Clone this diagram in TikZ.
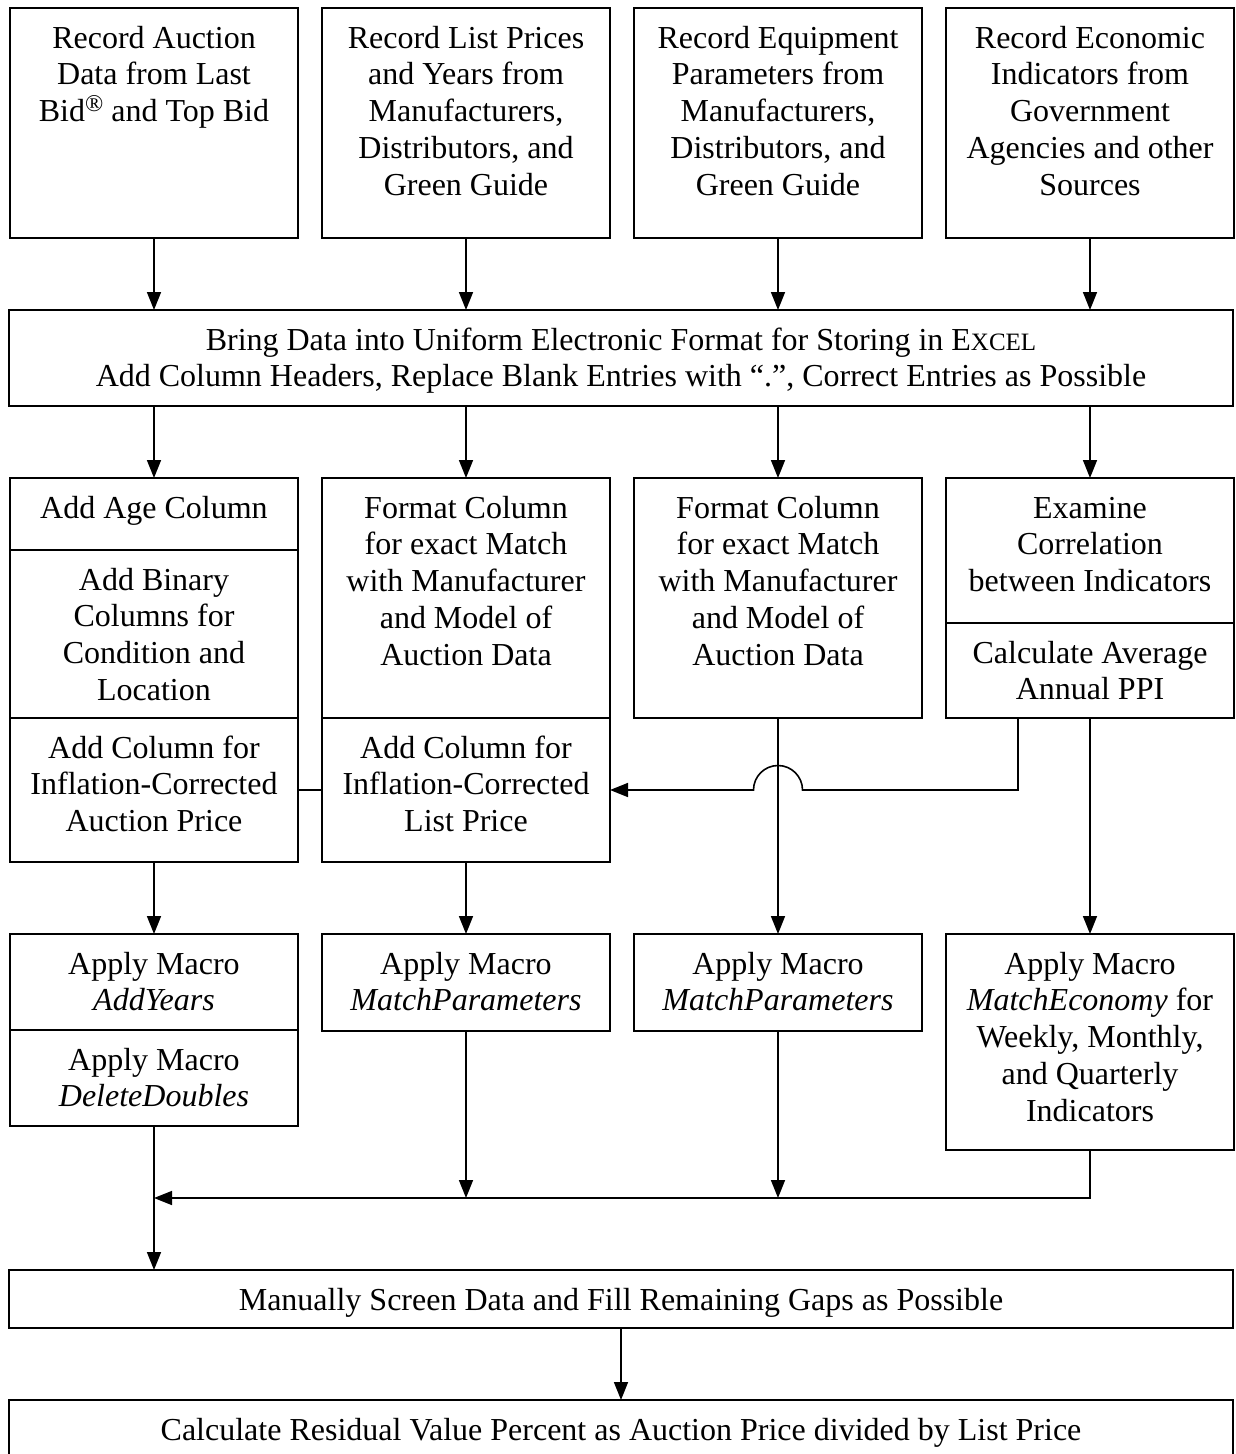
\documentclass[tikz,border=0pt]{standalone}
\usepackage{fontspec}
\setmainfont{Liberation Serif}
\usetikzlibrary{arrows.meta,calc}

% fixed-size cell: width, height, top-aligned centred lines
\newcommand\cellbox[3]{\vbox to #2{\hsize=#1\relax\parindent=0pt\centering
  \fontsize{32}{36.8}\selectfont\vskip 3.2pt\prevdepth=0pt #3\par\vfil}}
\newcommand\xlsname{E{\fontsize{25}{30}\selectfont XCEL}}
\newcommand\regmark{\raisebox{10pt}{\fontsize{24}{24}\selectfont\textregistered}}

\tikzset{
  cell/.style={draw, line width=1.6pt, inner sep=0pt, outer sep=0pt, anchor=north west},
  flow/.style={line width=1.6pt, -{Triangle[length=18pt,width=14pt]}},
  link/.style={line width=1.6pt},
}

\begin{document}
\begin{tikzpicture}[x=1pt,y=-1pt]
\clip (0,0) rectangle (1235,1454);

% sources
\node[cell] (t1) at (10,8)  {\cellbox{288pt}{230pt}{Record Auction\\Data from Last\\Bid\regmark{} and Top Bid}};
\node[cell] (t2) at (322,8) {\cellbox{288pt}{230pt}{Record List Prices\\and Years from\\Manufacturers,\\Distributors, and\\Green Guide}};
\node[cell] (t3) at (634,8) {\cellbox{288pt}{230pt}{Record Equipment\\Parameters from\\Manufacturers,\\Distributors, and\\Green Guide}};
\node[cell] (t4) at (946,8) {\cellbox{288pt}{230pt}{Record Economic\\Indicators from\\Government\\Agencies and other\\Sources}};

% common formatting step
\node[cell] (bring) at (9,310) {\cellbox{1224pt}{96pt}{Bring Data into Uniform Electronic Format for Storing in \xlsname\\Add Column Headers, Replace Blank Entries with “.”, Correct Entries as Possible}};

% column preparation
\node[cell] (c1a) at (10,478)  {\cellbox{288pt}{72pt}{Add Age Column}};
\node[cell] (c1b) at (10,550)  {\cellbox{288pt}{168pt}{Add Binary\\Columns for\\Condition and\\Location}};
\node[cell] (c1c) at (10,718)  {\cellbox{288pt}{144pt}{Add Column for\\Inflation-Corrected\\Auction Price}};
\node[cell] (c2a) at (322,478) {\cellbox{288pt}{240pt}{Format Column\\for exact Match\\with Manufacturer\\and Model of\\Auction Data}};
\node[cell] (c2b) at (322,718) {\cellbox{288pt}{144pt}{Add Column for\\Inflation-Corrected\\List Price}};
\node[cell] (c3)  at (634,478) {\cellbox{288pt}{240pt}{Format Column\\for exact Match\\with Manufacturer\\and Model of\\Auction Data}};
\node[cell] (c4a) at (946,478) {\cellbox{288pt}{145pt}{Examine\\Correlation\\between Indicators}};
\node[cell] (c4b) at (946,623) {\cellbox{288pt}{95pt}{Calculate Average\\Annual PPI}};

% macros
\node[cell] (r1a) at (10,934)  {\cellbox{288pt}{96pt}{Apply Macro\\\textit{AddYears}}};
\node[cell] (r1b) at (10,1030) {\cellbox{288pt}{96pt}{Apply Macro\\\textit{DeleteDoubles}}};
\node[cell] (m2)  at (322,934) {\cellbox{288pt}{97pt}{Apply Macro\\\textit{MatchParameters}}};
\node[cell] (m3)  at (634,934) {\cellbox{288pt}{97pt}{Apply Macro\\\textit{MatchParameters}}};
\node[cell] (m4)  at (946,934) {\cellbox{288pt}{216pt}{Apply Macro\\\textit{MatchEconomy} for\\Weekly, Monthly,\\and Quarterly\\Indicators}};

% final steps
\node[cell] (manual) at (9,1270) {\cellbox{1224pt}{58pt}{Manually Screen Data and Fill Remaining Gaps as Possible}};
\node[cell] (calc)   at (9,1400) {\cellbox{1224pt}{70pt}{Calculate Residual Value Percent as Auction Price divided by List Price}};

% sources into formatting
\foreach \n in {t1,t2,t3,t4}
  \draw[flow] (\n.south) -- (\n.south |- bring.north);

% formatting into columns
\draw[flow] (c1a.north |- bring.south) -- (c1a.north);
\draw[flow] (c2a.north |- bring.south) -- (c2a.north);
\draw[flow] (c3.north |- bring.south) -- (c3.north);
\draw[flow] (c4a.north |- bring.south) -- (c4a.north);

% inflation correction link and PPI feed with hop over column 3
\draw[link] (c1c.east) -- (c2b.west);
\coordinate (ppi) at ($(c4b.south west)+(72,0)$);
\coordinate (hop) at (c3.south |- c2b.east);
\draw[flow] (ppi) |- ([xshift=24.5pt]hop) arc[start angle=0, end angle=180, radius=24.5pt] -- (c2b.east);

% columns into macros
\draw[flow] (c1c.south) -- (r1a.north);
\draw[flow] (c2b.south) -- (m2.north);
\draw[flow] (c3.south) -- (m3.north);
\draw[flow] (c4b.south) -- (m4.north);

% merge into screening
\coordinate (join) at (r1b.south |- 0,1198);
\draw[flow] (m4.south) |- (join);
\draw[flow] (m2.south) -- (m2.south |- join);
\draw[flow] (m3.south) -- (m3.south |- join);
\draw[flow] (r1b.south) -- (r1b.south |- manual.north);
\draw[flow] (manual.south) -- (calc.north);
\end{tikzpicture}
\end{document}
